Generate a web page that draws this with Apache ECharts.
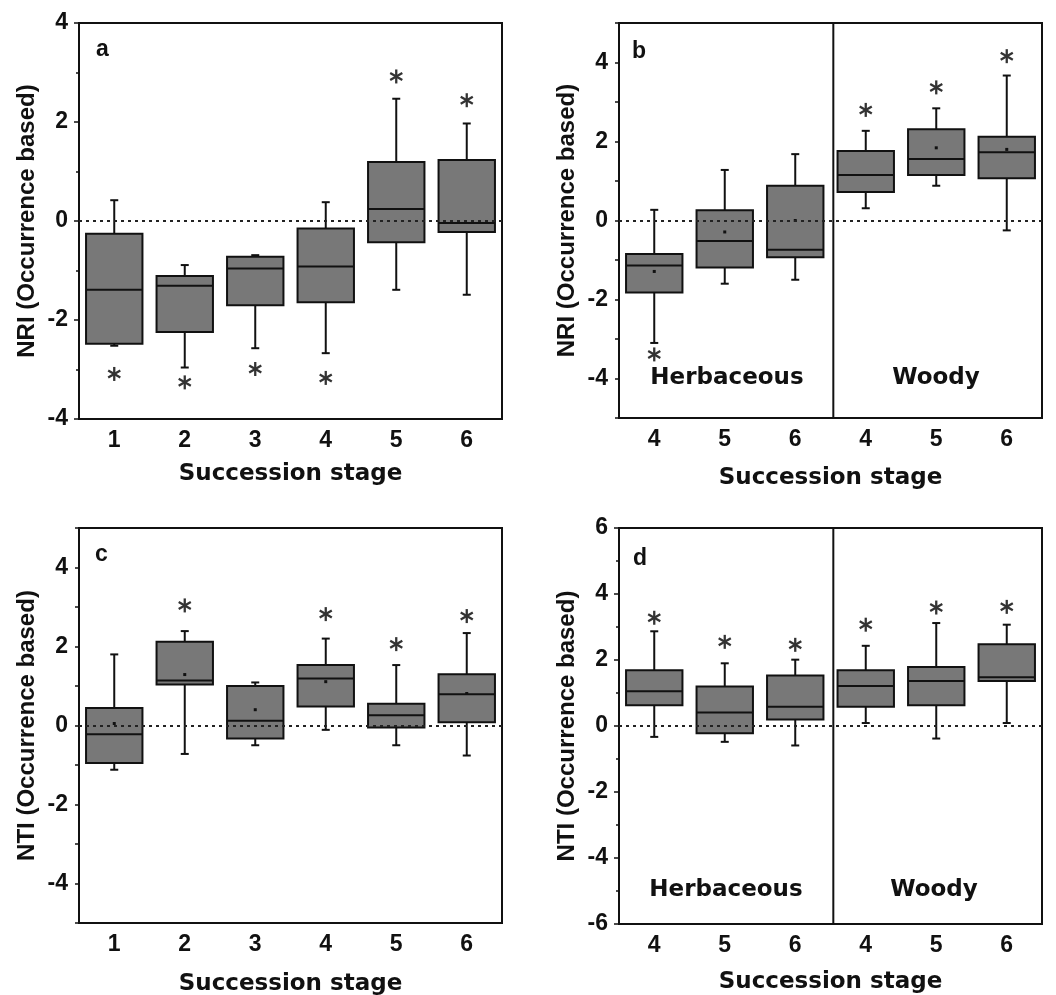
<!DOCTYPE html>
<html><head><meta charset="utf-8">
<script src="https://cdn.jsdelivr.net/npm/echarts@6/dist/echarts.min.js"></script>
<style>html,body{margin:0;padding:0;background:#fff}#c{width:1056px;height:995px}</style>
</head><body><div id="c"></div>
<script>
// ---------- data ----------
const stageCats = ['1', '2', '3', '4', '5', '6'];
const growthCats = ['H4', 'H5', 'H6', 'W4', 'W5', 'W6'];
const growthTickLabels = ['4', '5', '6', '4', '5', '6'];
const groupNames = ['Herbaceous', 'Woody'];
const panelLetters = ['a', 'b', 'c', 'd'];
const nriName = 'NRI (Occurrence based)';
const ntiName = 'NTI (Occurrence based)';
const xName = 'Succession stage';

// each box: [lower whisker, Q1, median, Q3, upper whisker]
const nriStageBoxes = [
  [-2.52, -2.48, -1.39, -0.26, 0.42],
  [-2.96, -2.24, -1.31, -1.11, -0.89],
  [-2.57, -1.70, -0.96, -0.72, -0.69],
  [-2.67, -1.64, -0.92, -0.15, 0.38],
  [-1.39, -0.43, 0.24, 1.19, 2.47],
  [-1.49, -0.22, -0.04, 1.23, 1.97]
];
const nriStageStars = [-3.09, -3.26, -2.99, -3.17, 2.92, 2.44];

const nriGrowthBoxes = [
  [-3.10, -1.82, -1.14, -0.85, 0.27],
  [-1.60, -1.19, -0.52, 0.26, 1.28],
  [-1.50, -0.93, -0.74, 0.88, 1.68],
  [0.31, 0.72, 1.15, 1.76, 2.27],
  [0.88, 1.15, 1.56, 2.31, 2.84],
  [-0.25, 1.07, 1.73, 2.12, 3.67]
];
const nriGrowthMeans = [-1.29, -0.29, 0.00, null, 1.84, 1.80];
const nriGrowthStars = [-3.39, null, null, 2.80, 3.37, 4.16];
const nriDividerAt = 3.04;

const ntiStageBoxes = [
  [-1.12, -0.95, -0.22, 0.44, 1.80],
  [-0.72, 1.04, 1.14, 2.12, 2.39],
  [-0.50, -0.33, 0.12, 1.00, 1.09],
  [-0.11, 0.48, 1.19, 1.53, 2.20],
  [-0.50, -0.05, 0.26, 0.55, 1.53],
  [-0.76, 0.08, 0.79, 1.30, 2.34]
];
const ntiStageMeans = [0.05, 1.29, 0.40, 1.11, null, 0.81];
const ntiStageStars = [null, 3.04, null, 2.82, 2.06, 2.77];

const ntiGrowthBoxes = [
  [-0.33, 0.63, 1.05, 1.69, 2.87],
  [-0.48, -0.22, 0.41, 1.20, 1.90],
  [-0.59, 0.20, 0.58, 1.53, 2.01],
  [0.09, 0.58, 1.21, 1.69, 2.43],
  [-0.38, 0.63, 1.36, 1.79, 3.12],
  [0.09, 1.36, 1.48, 2.48, 3.07]
];
const ntiGrowthStars = [3.28, 2.55, 2.46, 3.07, 3.59, 3.61];
const ntiDividerAt = 3.04;

// ---------- styling helpers ----------
const INK = '#111';
const BOX_FILL = '#787878';
const LABEL_FONT = 'Liberation Sans, Arial, sans-serif';
const NAME_FONT = 'DejaVu Sans, Verdana, sans-serif';

function boxRender(params, api) {
  const x = api.value(0);
  const lo = api.coord([x, api.value(1)]);
  const q1 = api.coord([x, api.value(2)]);
  const md = api.coord([x, api.value(3)]);
  const q3 = api.coord([x, api.value(4)]);
  const hi = api.coord([x, api.value(5)]);
  const mean = api.value(6);
  const bw = api.size([1, 0])[0] * 0.8;
  const cx = lo[0], half = bw / 2, cap = 4;
  const ls = { stroke: INK, lineWidth: 2 };
  const children = [
    { type: 'line', shape: { x1: cx, y1: hi[1], x2: cx, y2: q3[1] }, style: ls },
    { type: 'line', shape: { x1: cx - cap, y1: hi[1], x2: cx + cap, y2: hi[1] }, style: ls },
    { type: 'line', shape: { x1: cx, y1: q1[1], x2: cx, y2: lo[1] }, style: ls },
    { type: 'line', shape: { x1: cx - cap, y1: lo[1], x2: cx + cap, y2: lo[1] }, style: ls },
    { type: 'rect', shape: { x: cx - half, y: q3[1], width: bw, height: q1[1] - q3[1] },
      style: { fill: BOX_FILL, stroke: INK, lineWidth: 2 } },
    { type: 'line', shape: { x1: cx - half, y1: md[1], x2: cx + half, y2: md[1] }, style: ls }
  ];
  if (isFinite(mean)) {
    const m = api.coord([x, mean]);
    children.push({ type: 'rect', shape: { x: m[0] - 1.5, y: m[1] - 1.5, width: 3, height: 3 }, style: { fill: INK } });
  }
  return { type: 'group', children };
}

function starRender(params, api) {
  const p = api.coord([api.value(0), api.value(1)]);
  const r = 7, dx = r * Math.sin(Math.PI / 3), dy = r * Math.cos(Math.PI / 3);
  const st = { stroke: '#333', lineWidth: 2.3 };
  return { type: 'group', children: [
    { type: 'line', shape: { x1: p[0], y1: p[1] - r, x2: p[0], y2: p[1] + r }, style: st },
    { type: 'line', shape: { x1: p[0] - dx, y1: p[1] - dy, x2: p[0] + dx, y2: p[1] + dy }, style: st },
    { type: 'line', shape: { x1: p[0] - dx, y1: p[1] + dy, x2: p[0] + dx, y2: p[1] - dy }, style: st }
  ]};
}

function boxData(boxes, means) {
  return boxes.map((b, i) => [i].concat(b).concat([means && means[i] != null ? means[i] : NaN]));
}
function starData(stars) {
  const out = [];
  stars.forEach((v, i) => { if (v != null) out.push([i, v]); });
  return out;
}

function boxSeries(xi, yi, boxes, means) {
  return {
    type: 'custom', xAxisIndex: xi, yAxisIndex: yi, renderItem: boxRender,
    data: boxData(boxes, means), encode: { x: 0, y: [1, 2, 3, 4, 5] }, clip: false, silent: true,
    markLine: { silent: true, symbol: 'none', label: { show: false },
      lineStyle: { color: '#222', type: [3, 4], width: 1.8 }, data: [{ yAxis: 0 }] }
  };
}
function starSeries(xi, yi, stars) {
  return { type: 'custom', xAxisIndex: xi, yAxisIndex: yi, renderItem: starRender,
    data: starData(stars), encode: { x: 0, y: 1 }, clip: false, silent: true };
}

function catAxis(grid, cats, labels, nameGap) {
  return {
    type: 'category', gridIndex: grid, data: cats, boundaryGap: true,
    name: xName, nameLocation: 'middle', nameGap: nameGap,
    nameTextStyle: { fontFamily: NAME_FONT, fontWeight: 'bold', fontSize: 23, color: INK },
    axisLine: { onZero: false, lineStyle: { color: INK, width: 2 } },
    axisTick: { alignWithLabel: true, length: 6, lineStyle: { color: INK, width: 2 } },
    axisLabel: { margin: 10, fontFamily: LABEL_FONT, fontWeight: 'bold', fontSize: 23, color: INK,
      formatter: (v, i) => labels[i] }
  };
}
function valAxis(grid, name, min, max, interval, minor) {
  const ax = {
    type: 'value', gridIndex: grid, min, max, interval,
    name, nameLocation: 'middle', nameGap: 40,
    nameTextStyle: { fontFamily: LABEL_FONT, fontWeight: 'bold', fontSize: 24, color: INK },
    axisLine: { show: true, onZero: false, lineStyle: { color: INK, width: 2 } },
    axisTick: { show: true, length: 5, lineStyle: { color: INK, width: 1.5 } },
    splitLine: { show: false },
    axisLabel: { margin: 11, fontFamily: LABEL_FONT, fontWeight: 'bold', fontSize: 23, color: INK,
      formatter: v => (Math.round(v) % 2 === 0 ? String(v) : '') }
  };
  if (minor) ax.minorTick = { show: true, splitNumber: 2, length: 3, lineStyle: { color: INK, width: 1.5 } };
  else ax.axisTick.length = 4;
  return ax;
}
function hiddenX(grid) {
  return { type: 'value', gridIndex: grid, min: 0, max: 6, show: false,
    axisLine: { onZero: false } };
}
function dividerSeries(xi, yi, at, lo, hi) {
  return { type: 'line', xAxisIndex: xi, yAxisIndex: yi, data: [[at, lo], [at, hi]],
    symbol: 'none', silent: true, lineStyle: { color: INK, width: 2 } };
}

const gridStyle = { show: true, borderColor: INK, borderWidth: 2, backgroundColor: 'transparent',
  containLabel: false, outerBoundsMode: 'none' };
const grids = [
  Object.assign({ left: 79, top: 23, width: 423, height: 396 }, gridStyle),
  Object.assign({ left: 619, top: 23, width: 423, height: 395 }, gridStyle),
  Object.assign({ left: 79, top: 528, width: 423, height: 395 }, gridStyle),
  Object.assign({ left: 619, top: 528, width: 423, height: 396 }, gridStyle)
];

const textStyle = (t, x, y) => ({ type: 'text', x, y,
  style: { text: t, fontFamily: NAME_FONT, fontWeight: 'bold', fontSize: 23, fill: INK,
    textAlign: 'center', textVerticalAlign: 'middle' } });
const letterStyle = (t, x, y) => ({ type: 'text', x, y,
  style: { text: t, fontFamily: LABEL_FONT, fontWeight: 'bold', fontSize: 23, fill: INK,
    textAlign: 'left', textVerticalAlign: 'middle' } });

const option = {
  animation: false,
  backgroundColor: '#fff',
  grid: grids,
  xAxis: [
    catAxis(0, stageCats, stageCats, 44),
    catAxis(1, growthCats, growthTickLabels, 49),
    catAxis(2, stageCats, stageCats, 50),
    catAxis(3, growthCats, growthTickLabels, 47),
    hiddenX(1),
    hiddenX(3)
  ],
  yAxis: [
    valAxis(0, nriName, -4, 4, 2, true),
    valAxis(1, nriName, -5, 5, 1, false),
    valAxis(2, ntiName, -5, 5, 1, false),
    valAxis(3, ntiName, -6, 6, 2, true)
  ],
  series: [
    boxSeries(0, 0, nriStageBoxes, null),
    starSeries(0, 0, nriStageStars),
    boxSeries(1, 1, nriGrowthBoxes, nriGrowthMeans),
    starSeries(1, 1, nriGrowthStars),
    dividerSeries(4, 1, nriDividerAt, -5, 5),
    boxSeries(2, 2, ntiStageBoxes, ntiStageMeans),
    starSeries(2, 2, ntiStageStars),
    boxSeries(3, 3, ntiGrowthBoxes, null),
    starSeries(3, 3, ntiGrowthStars),
    dividerSeries(5, 3, ntiDividerAt, -6, 6)
  ],
  graphic: [
    letterStyle(panelLetters[0], 96, 50),
    letterStyle(panelLetters[1], 632, 52),
    letterStyle(panelLetters[2], 95, 555),
    letterStyle(panelLetters[3], 633, 559),
    textStyle(groupNames[0], 727, 378),
    textStyle(groupNames[1], 936, 378),
    textStyle(groupNames[0], 726, 890),
    textStyle(groupNames[1], 934, 890)
  ]
};

const chart = echarts.init(document.getElementById('c'), null, { renderer: 'canvas' });
chart.setOption(option);
</script>
</body></html>
